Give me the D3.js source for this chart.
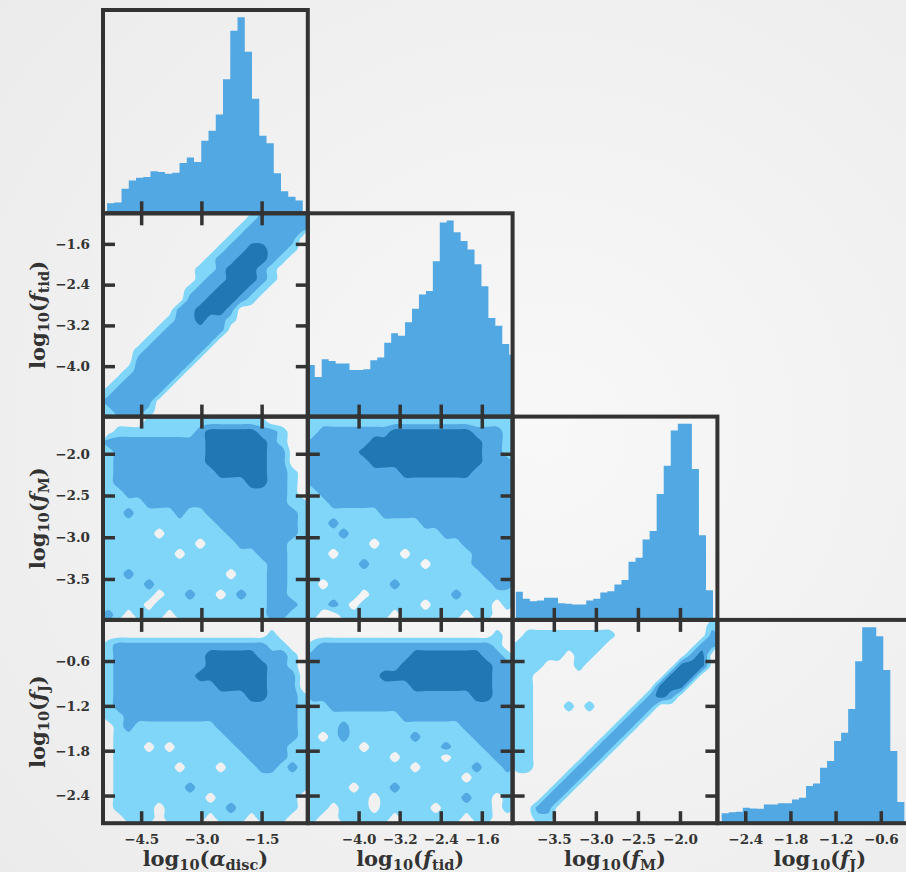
<!DOCTYPE html>
<html>
<head>
<meta charset="utf-8">
<script src="https://cdn.jsdelivr.net/npm/d3@7"></script>
<style>
  body { margin: 0; background: #f2f2f2; }
  svg { display: block; }
  text { font-family: "DejaVu Serif", serif; font-weight: bold; fill: #333; }
</style>
</head>
<body>
<svg id="chart" width="906" height="872"></svg>
<script>
// corner plot: 4 parameters, histograms on the diagonal, density levels below

const paramSymbols = ["α", "f", "f", "f"];
const paramSubs = ["disc", "tid", "M", "J"];
const axisDomains = [[-5.45, -0.35], [-4.99, -1.0], [-3.99, -1.555], [-2.77, -0.05]];
const tickValues = [
  [-4.5, -3.0, -1.5],
  [-4.0, -3.2, -2.4, -1.6],
  [-3.5, -3.0, -2.5, -2.0],
  [-2.4, -1.8, -1.2, -0.6]
];

// 1d marginals (bin heights) and the range each histogram covers
const histAlpha = [30, 32, 73, 98, 106, 108, 125, 123, 118, 121, 150, 166, 153, 216, 246, 294, 399, 544, 584, 481, 341, 231, 209, 119, 66, 49, 38];
const histTid = [154, 118, 171, 166, 158, 158, 139, 139, 141, 168, 176, 220, 248, 241, 281, 321, 364, 374, 463, 578, 584, 549, 523, 498, 454, 388, 294, 271, 216, 184];
const histM = [84, 63, 56, 58, 66, 66, 50, 48, 46, 46, 58, 63, 82, 86, 106, 119, 174, 186, 240, 266, 376, 461, 566, 586, 586, 451, 253, 89];
const histJ = [30, 33, 34, 46, 44, 43, 56, 56, 60, 60, 71, 76, 111, 119, 166, 186, 246, 270, 341, 484, 586, 586, 559, 458, 216, 63];
const histRanges = [[-5.35, -0.475], [-4.99, -0.93], [-3.952, -1.607], [-2.713, -0.287]];

// 2d credible levels on a 20x20 grid (0 none, 1 outer, 2 middle, 3 inner), top row first
const densTidAlpha = [
  "00000000000000122222",
  "00000000000001222222",
  "00000000000012222220",
  "00000000000122332210",
  "00000000001223332100",
  "00000000011233321000",
  "00000000012233321000",
  "00000000122333210000",
  "00000000223332100000",
  "00000002233320000000",
  "00000012232210000000",
  "00000122222200000000",
  "00001222222000000000",
  "00012222220000000000",
  "00022222200000000000",
  "00122222000000000000",
  "01222220000000000000",
  "12222200000000000000",
  "22222000000000000000",
  "12221000000000000000"
];
const densMAlpha = [
  "00001111111111110000",
  "01111111123333322100",
  "22222222223333332100",
  "12222222223333332200",
  "12222222223333332200",
  "12222222222333332210",
  "12222222222222332210",
  "11222222222222222210",
  "11112222222222222211",
  "11211112112222222221",
  "11111111111222222221",
  "11111011111122222221",
  "11111111101112222211",
  "11111110111111122211",
  "11111111111111112211",
  "11211111111101112211",
  "11112111111111112211",
  "11111011211012112211",
  "11110111111111112221",
  "21011101111111112211"
];
const densMTid = [
  "11111111111111111111",
  "12222222333333332221",
  "22222233333333333221",
  "22222333333333333221",
  "22222233333333333222",
  "22222222233333332222",
  "22222222222222222222",
  "12222222222222222222",
  "11222222222222222222",
  "11111112222222222222",
  "11211111111222222222",
  "11121111111112222222",
  "11111101111111122222",
  "11011111101111112222",
  "11111211111011112222",
  "11111111111111111222",
  "10111111211111111122",
  "11111011111111211111",
  "11210111111011111101",
  "10011111011111101100"
];
const densJAlpha = [
  "00000000000000000000",
  "00000000000000001000",
  "12222222222222221100",
  "12222222223333322210",
  "12222222223333332210",
  "12222222233333332220",
  "12222222222333332220",
  "12222222222222332221",
  "12222222222222222221",
  "11222222222222222221",
  "01211111111222222221",
  "01111111111122222221",
  "01110101111112222211",
  "01111111111111222211",
  "01111110111011122121",
  "01111111111111111111",
  "01111111211111111111",
  "01111111110111111110",
  "01111011111121111110",
  "00111011110111011100"
];
const densJTid = [
  "00000000000000000000",
  "00000000000000000010",
  "12222222222222222210",
  "22222222223333333221",
  "22222222233333333322",
  "22222223333333333322",
  "22222222223333333322",
  "22222222222222223322",
  "11222222222222222222",
  "11111111122222222222",
  "11121111111111122222",
  "10121111112111112222",
  "11111011111112111222",
  "11111111011110111122",
  "11111111110111112112",
  "11111111111111101111",
  "11110111211111111111",
  "11111101111111121101",
  "11011101111101111101",
  "10011111011111101100"
];
const densJM = [
  "00000000000000000001",
  "01111111110000000002",
  "11111111100000000022",
  "11111011000000000230",
  "11100010000000003330",
  "11000000000000033300",
  "11000000000000333000",
  "11000000000002320000",
  "11000101000022000000",
  "11000000000220000000",
  "11000000002200000000",
  "11000000022000000000",
  "11000000220000000000",
  "11000002200000000000",
  "11000022000000000000",
  "00000220000000000000",
  "00002200000000000000",
  "00022000000000000000",
  "00220000000000000000",
  "00110000000000000000"
];
const contourLevels = [0.5, 1.5, 2.5];

const levelColors = ["#80d6f8", "#51a8e2", "#2177b4"];
const histColor = "#51a8e2";
const ink = "#333";

const hists = [histAlpha, histTid, histM, histJ];
const densities = {
  "1,0": densTidAlpha, "2,0": densMAlpha, "2,1": densMTid,
  "3,0": densJAlpha, "3,1": densJTid, "3,2": densJM
};

const W = 906, H = 872;
const left0 = 103, top0 = 10, cellW = 204.8, cellH = 203.3;

const svg = d3.select("#chart");
const defs = svg.append("defs");

// soft grey backdrop
const grad = defs.append("radialGradient").attr("id", "bg")
  .attr("cx", "60%").attr("cy", "50%").attr("r", "80%");
grad.append("stop").attr("offset", "0%").attr("stop-color", "#f8f8f8");
grad.append("stop").attr("offset", "100%").attr("stop-color", "#ebebeb");
svg.append("rect").attr("width", W).attr("height", H).attr("fill", "url(#bg)");

function xScale(c) {
  return d3.scaleLinear().domain(axisDomains[c]).range([left0 + c * cellW, left0 + (c + 1) * cellW]);
}
function yScale(r) {
  return d3.scaleLinear().domain(axisDomains[r]).range([top0 + (r + 1) * cellH, top0 + r * cellH]);
}

function panelClip(r, c) {
  const id = "clip-" + r + "-" + c;
  defs.append("clipPath").attr("id", id).append("rect")
    .attr("x", left0 + c * cellW).attr("y", top0 + r * cellH)
    .attr("width", cellW).attr("height", cellH);
  return "url(#" + id + ")";
}

function drawHist(g, c) {
  const x = xScale(c);
  const vals = hists[c];
  const n = vals.length;
  const edge = d3.scaleLinear().domain([0, n]).range(histRanges[c]);
  const y = d3.scaleLinear().domain([0, d3.max(vals) * 1.037])
    .range([top0 + (c + 1) * cellH, top0 + c * cellH]);
  const pts = vals.map((v, k) => [edge(k), v]);
  pts.push([edge(n), vals[n - 1]]);
  const area = d3.area().curve(d3.curveStepAfter)
    .x(d => x(d[0])).y0(y(0)).y1(d => y(d[1]));
  g.append("path").attr("d", area(pts)).attr("fill", histColor)
    .attr("clip-path", panelClip(c, c));
}

function drawDensity(g, r, c, grid) {
  const n = grid[0].length, m = grid.length;
  const values = grid.flatMap(row => Array.from(row, Number));
  const sets = d3.contours().size([n, m]).thresholds(contourLevels)(values);
  const x = xScale(c), y = yScale(r);
  const gx = d3.scaleLinear().domain([0, n]).range(axisDomains[c]);
  const gy = d3.scaleLinear().domain([0, m]).range([axisDomains[r][1], axisDomains[r][0]]);
  const line = d3.line().curve(d3.curveCatmullRomClosed.alpha(0.5));
  const clip = panelClip(r, c);
  sets.forEach((set, k) => {
    const d = set.coordinates.map(poly => poly.map(ring =>
      line(ring.slice(0, -1).map(p => [x(gx(p[0])), y(gy(p[1]))]))
    ).join("")).join("");
    g.append("path").attr("d", d).attr("fill", levelColors[k])
      .attr("fill-rule", "evenodd").attr("clip-path", clip);
  });
}

function styleAxis(sel) {
  sel.select(".domain").remove();
  sel.selectAll(".tick line").attr("stroke", ink).attr("stroke-width", 3.5);
  sel.selectAll(".tick text").attr("font-size", 13.5).attr("fill", ink)
    .attr("font-family", "DejaVu Serif").attr("font-weight", "bold");
}

const fmt = d3.format(".1f");
const blank = () => "";

function drawAxes(g, r, c) {
  const x = xScale(c), y = yScale(r);
  const yb = top0 + (r + 1) * cellH, yt = top0 + r * cellH;
  const xl = left0 + c * cellW, xr = left0 + (c + 1) * cellW;

  g.append("g").attr("transform", `translate(0,${yb})`)
    .call(d3.axisBottom(x).tickValues(tickValues[c]).tickSizeInner(-12).tickSizeOuter(0)
      .tickPadding(11).tickFormat(r === 3 ? fmt : blank))
    .call(styleAxis);

  if (r !== c) {
    g.append("g").attr("transform", `translate(0,${yt})`)
      .call(d3.axisTop(x).tickValues(tickValues[c]).tickSizeInner(-12).tickSizeOuter(0).tickFormat(blank))
      .call(styleAxis);
    g.append("g").attr("transform", `translate(${xl},0)`)
      .call(d3.axisLeft(y).tickValues(tickValues[r]).tickSizeInner(-12).tickSizeOuter(0)
        .tickPadding(13).tickFormat(c === 0 ? fmt : blank))
      .call(styleAxis);
    g.append("g").attr("transform", `translate(${xr},0)`)
      .call(d3.axisRight(y).tickValues(tickValues[r]).tickSizeInner(-12).tickSizeOuter(0).tickFormat(blank))
      .call(styleAxis);
  }

  g.append("rect").attr("x", xl).attr("y", yt).attr("width", cellW).attr("height", cellH)
    .attr("fill", "none").attr("stroke", ink).attr("stroke-width", 4);
}

// axis title: log10(sym_sub)
function writeTitle(t, p) {
  t.append("tspan").text("log");
  t.append("tspan").attr("font-size", 14.5).attr("dy", 4).text("10");
  t.append("tspan").attr("dy", -4).text("(");
  t.append("tspan").attr("font-style", "italic").text(paramSymbols[p]);
  t.append("tspan").attr("font-size", 14.5).attr("dy", 4).text(paramSubs[p]);
  t.append("tspan").attr("dy", -4).text(")");
}

const plots = svg.append("g");
const frames = svg.append("g");

for (let r = 0; r < 4; r++) {
  for (let c = 0; c <= r; c++) {
    if (r === c) drawHist(plots, c);
    else drawDensity(plots, r, c, densities[r + "," + c]);
  }
}
for (let r = 0; r < 4; r++) {
  for (let c = 0; c <= r; c++) drawAxes(frames, r, c);
}

for (let p = 0; p < 4; p++) {
  const t = svg.append("text").attr("font-size", 21).attr("text-anchor", "middle")
    .attr("x", left0 + (p + 0.5) * cellW).attr("y", 866);
  writeTitle(t, p);
}
for (let p = 1; p < 4; p++) {
  const cy = top0 + (p + 0.5) * cellH;
  const t = svg.append("text").attr("font-size", 21).attr("text-anchor", "middle")
    .attr("transform", `translate(45,${cy}) rotate(-90)`);
  writeTitle(t, p);
}
</script>
</body>
</html>
